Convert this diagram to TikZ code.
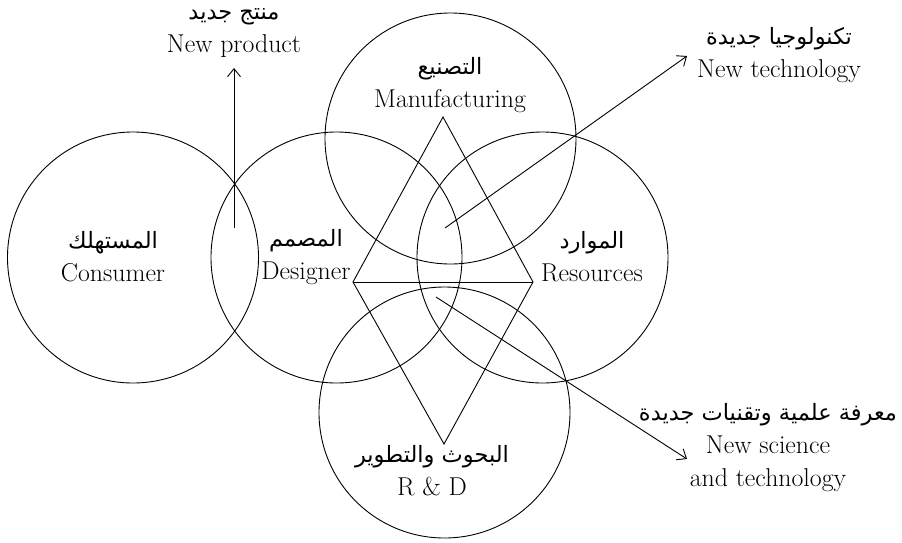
\documentclass[tikz,border=0pt]{standalone}
\usepackage{fontspec}
\newfontfamily\arabicfont[Script=Arabic]{DejaVu Sans}
\TeXXeTstate=1
\usetikzlibrary{arrows, arrows.meta}
\newcommand{\artxt}[1]{{\arabicfont\fontsize{22.5}{33}\selectfont\beginR #1\endR}}

\begin{document}
\begin{tikzpicture}[x=1pt,y=-1pt,line width=0.9pt,
	txt/.style={align=center,inner sep=0pt,font=\fontsize{25.8}{33}\selectfont},
	outarrow/.style={-{Straight Barb[length=8pt,width=13pt]}}]
	\useasboundingbox (0,0) rectangle (902,542);

	% circles
	\coordinate (consumer) at (133,257.5);
	\coordinate (designer) at (336.5,257.5);
	\coordinate (manuf) at (450.5,138.5);
	\coordinate (resources) at (542.5,257.5);
	\coordinate (rnd) at (444.5,412.5);
	\draw (consumer) circle[radius=125.5];
	\draw (designer) circle[radius=125.5];
	\draw (manuf) circle[radius=125.5];
	\draw (resources) circle[radius=125.5];
	\draw (rnd) circle[radius=125.5];

	% triangles
	\coordinate (top) at (443,117);
	\coordinate (left) at (353,282);
	\coordinate (right) at (533,282);
	\coordinate (bottom) at (444,444);
	\draw (left) -- (top) -- (right) -- (bottom) -- cycle;
	\draw (left) -- (right);

	% labels
	\node[txt] (consumerlbl) at (113,257) {\artxt{المستهلك}\\Consumer};
	\node[txt] (designerlbl) at (306,257) {\artxt{المصمم}\\Designer};
	\node[txt] (manuflbl) at (450,85) {\artxt{التصنيع}\\Manufacturing};
	\node[txt] (resourceslbl) at (592,257) {\artxt{الموارد}\\Resources};
	\node[txt] (rndlbl) at (432,471) {\artxt{البحوث والتطوير}\\R \& D};

	\node[txt] (productlbl) at (234,33) {\artxt{منتج جديد}\\New product};
	\node[txt] (techlbl) at (779,55) {\artxt{تكنولوجيا جديدة}\\New technology};
	\node[txt] (sciencelbl) at (768,448) {\artxt{معرفة علمية وتقنيات جديدة}\\New science\\and technology};

	% arrows
	\coordinate (product0) at (234,228);
	\coordinate (product1) at (234,68);
	\draw[outarrow] (product0) -- (product1);
	\coordinate (tech0) at (445,228);
	\coordinate (tech1) at (687,56);
	\draw[outarrow] (tech0) -- (tech1);
	\coordinate (science0) at (436,297);
	\coordinate (science1) at (687,459);
	\draw[outarrow] (science0) -- (science1);
\end{tikzpicture}
\end{document}
